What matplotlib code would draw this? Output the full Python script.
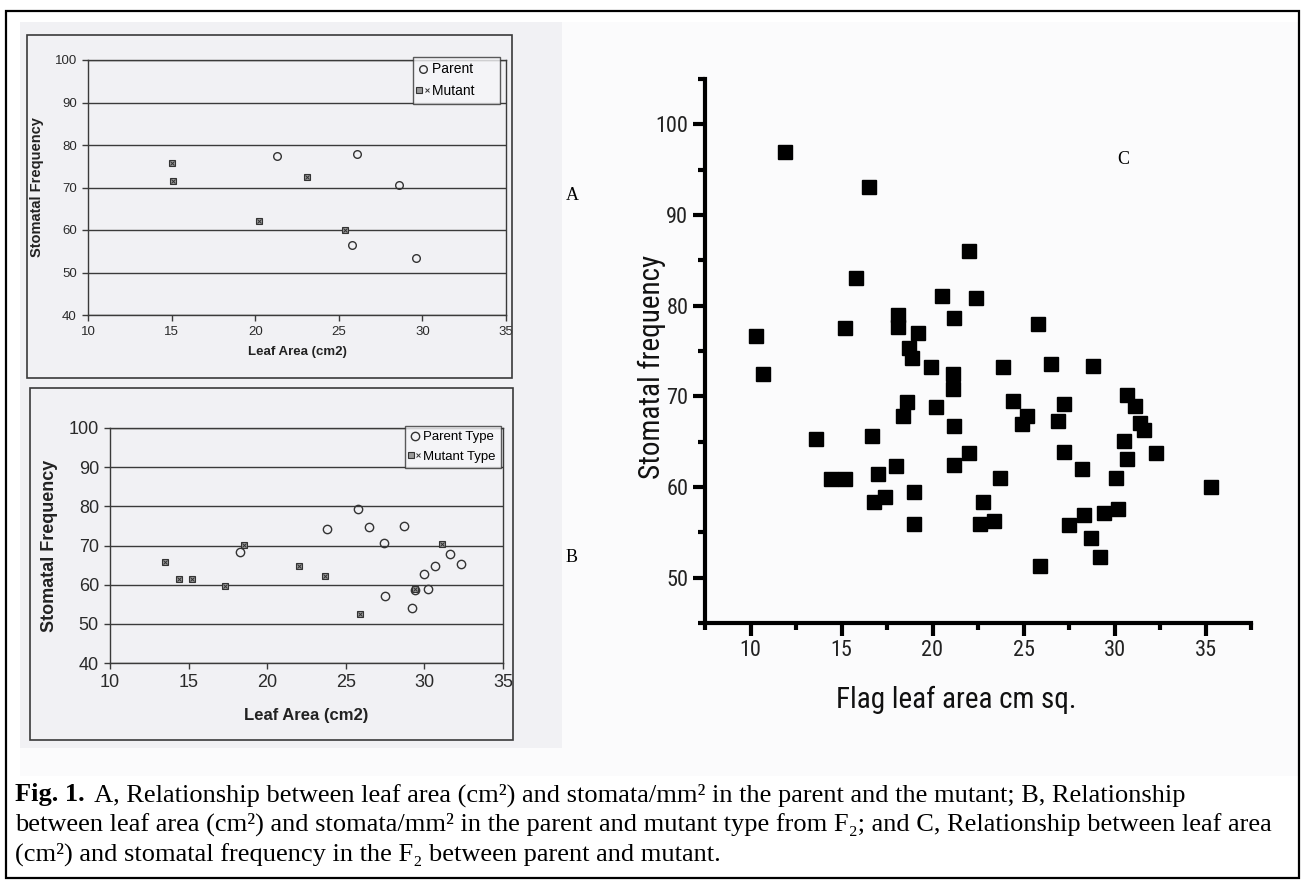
"""
Fig. 1 - leaf area vs stomatal frequency (A, B scanned panels, C F2 scatter)
"""
import matplotlib
matplotlib.use('Agg')
import matplotlib.pyplot as plt
from matplotlib.patches import Rectangle
from matplotlib.legend_handler import HandlerTuple

# A: parent / mutant
a_parent_x = [21.3, 26.1, 28.6, 25.8, 29.6]
a_parent_y = [77.4, 77.9, 70.6, 56.5, 53.3]
a_mutant_x = [15.0, 15.1, 20.2, 23.1, 25.4]
a_mutant_y = [75.8, 71.6, 62.2, 72.4, 60.1]

# B: parent type / mutant type from F2
b_parent_x = [25.8, 26.5, 23.8, 28.7, 27.4, 18.3, 31.6, 32.3, 30.7, 30.0, 30.2, 29.4, 27.5, 29.2]
b_parent_y = [79.3, 74.8, 74.2, 74.9, 70.6, 68.4, 67.8, 65.3, 64.7, 62.7, 58.9, 58.7, 57.1, 54.0]
b_mutant_x = [13.5, 14.4, 15.2, 17.3, 18.5, 22.0, 23.7, 25.9, 31.1, 29.4]
b_mutant_y = [65.7, 61.5, 61.5, 59.7, 70.1, 64.7, 62.3, 52.6, 70.4, 58.9]

# C: flag leaf area vs stomatal frequency in F2
c_x = [11.9, 16.5, 15.8, 22.0, 20.5, 22.4, 10.3, 10.7, 15.2, 18.1,
       18.1, 21.2, 19.2, 25.8, 18.7, 18.9, 19.9, 21.1, 21.1, 23.9,
       26.5, 28.8, 18.6, 18.4, 20.2, 24.4, 25.2, 24.9, 27.2, 26.9,
       21.2, 30.7, 31.1, 31.4, 31.6, 30.5, 30.7, 30.1, 32.3, 22.0,
       21.2, 27.2, 28.2, 18.0, 23.7, 17.0, 17.4, 16.8, 19.0, 19.0,
       22.8, 22.6, 23.4, 28.3, 29.4, 30.2, 27.5, 28.7, 29.2, 25.9,
       35.3, 13.6, 14.4, 15.2, 16.7]
c_y = [97.0, 93.1, 83.0, 86.0, 81.1, 80.9, 76.7, 72.5, 77.5, 79.0,
       77.6, 78.6, 77.0, 78.0, 75.3, 74.2, 73.2, 72.5, 70.8, 73.2,
       73.6, 73.3, 69.4, 67.8, 68.8, 69.5, 67.8, 66.9, 69.1, 67.3,
       66.7, 70.1, 68.9, 67.1, 66.3, 65.1, 63.1, 61.0, 63.8, 63.8,
       62.4, 63.9, 62.0, 62.3, 61.0, 61.4, 58.9, 58.4, 59.5, 55.9,
       58.3, 55.9, 56.2, 56.9, 57.1, 57.6, 55.8, 54.4, 52.3, 51.3,
       60.0, 65.3, 60.9, 60.9, 65.6]

W, H = 1304, 882
NARROW = ['Roboto Condensed', 'Liberation Sans Narrow', 'DejaVu Sans']
SERIF = ['Liberation Serif', 'DejaVu Serif']


def box(l, t, r, b):
    # pixel box (top-left origin) -> figure fraction
    return [l / W, 1 - b / H, (r - l) / W, (b - t) / H]


def rect(l, t, r, b, **kw):
    x, y, w, h = box(l, t, r, b)
    fig.add_artist(Rectangle((x, y), w, h, transform=fig.transFigure, **kw))


fig = plt.figure(figsize=(W / 100, H / 100), dpi=100)
fig.patch.set_facecolor('white')

# backgrounds and frames
rect(20, 22, 1298, 776, facecolor='#fbfbfc', edgecolor='none', zorder=0)
rect(20, 22, 562, 748, facecolor='#f1f1f4', edgecolor='none', zorder=0)
rect(27, 35, 512, 378, facecolor='none', edgecolor='#3a3a3a', lw=1.2, zorder=1)
rect(30, 388, 513, 740, facecolor='none', edgecolor='#3a3a3a', lw=1.2, zorder=1)
rect(6, 11, 1299, 878, facecolor='none', edgecolor='black', lw=1.6, zorder=1)


def scan_panel(pos, px, py, mx, my, labels, tick_fs, lab_fs, leg_fs, leg_anchor, ms):
    ax = fig.add_axes(box(*pos))
    ax.set_facecolor('none')
    ax.set_xlim(10, 35)
    ax.set_ylim(40, 100)
    ax.set_xticks(range(10, 36, 5))
    ax.set_yticks(range(40, 101, 10))
    ax.yaxis.grid(True, color='#3a3a3a', lw=1.0)
    ax.set_axisbelow(True)
    for s in ax.spines.values():
        s.set_color('#3a3a3a')
        s.set_linewidth(1.0)
    ax.tick_params(direction='out', length=4, width=1, color='#3a3a3a',
                   labelsize=tick_fs, labelcolor='#2a2a2a', pad=4)
    for t in ax.get_xticklabels() + ax.get_yticklabels():
        t.set_family('Liberation Sans')
    h1, = ax.plot(px, py, 'o', mfc='none', mec='#333333', mew=1.0, ms=ms, ls='none')
    h2, = ax.plot(mx, my, 's', mfc='#9a9a9a', mec='#333333', mew=0.8, ms=ms * 0.72, ls='none')
    h3, = ax.plot(mx, my, 'x', color='#333333', mew=0.7, ms=ms * 0.6, ls='none')
    ax.set_xlabel('Leaf Area (cm2)', fontsize=lab_fs, fontweight='bold',
                  family='Liberation Sans', color='#222222', labelpad=6)
    ax.set_ylabel('Stomatal Frequency', fontsize=lab_fs + 1, fontweight='bold',
                  family='Liberation Sans', color='#222222', labelpad=8)
    leg = ax.legend([h1, (h2, h3)], labels, loc='upper right', bbox_to_anchor=leg_anchor,
                    handler_map={tuple: HandlerTuple(ndivide=None)},
                    prop={'family': 'Liberation Sans', 'size': leg_fs},
                    frameon=True, fancybox=False, edgecolor='#333333',
                    handlelength=0.7, handletextpad=0.3, borderpad=0.4,
                    labelspacing=0.55, borderaxespad=0)
    leg.get_frame().set_linewidth(1.0)
    leg.get_frame().set_facecolor('#f6f6f8')
    return ax


axA = scan_panel((88, 60, 506, 315), a_parent_x, a_parent_y, a_mutant_x, a_mutant_y,
                 ['Parent     ', 'Mutant     '], 9.5, 9.5, 10, (0.985, 1.012), 5.5)
axB = scan_panel((110, 428, 503, 663), b_parent_x, b_parent_y, b_mutant_x, b_mutant_y,
                 ['Parent Type', 'Mutant Type'], 13, 12, 9.5, (0.995, 1.01), 6)
axB.xaxis.labelpad = 12

# panel C
axC = fig.add_axes(box(705, 79, 1251, 623))
axC.set_facecolor('none')
axC.set_xlim(7.5, 37.5)
axC.set_ylim(45, 105)
axC.set_xticks(range(10, 36, 5))
axC.set_xticks([7.5 + 5 * i for i in range(7)], minor=True)
axC.set_yticks(range(50, 101, 10))
axC.set_yticks(range(45, 106, 10), minor=True)
for s in ['top', 'right']:
    axC.spines[s].set_visible(False)
for s in ['left', 'bottom']:
    axC.spines[s].set_linewidth(3.0)
    axC.spines[s].set_capstyle('projecting')
axC.tick_params(which='major', direction='out', length=9, width=3.0, pad=3, labelsize=16)
axC.tick_params(which='minor', direction='out', length=5, width=3.0)
for t in axC.get_xticklabels() + axC.get_yticklabels():
    t.set_family(NARROW)
    t.set_color('#222222')
axC.plot(c_x, c_y, 's', color='black', ms=9.5, ls='none', clip_on=False)
axC.set_xlabel('Flag leaf area cm sq.', fontsize=21, family=NARROW, color='#111111')
axC.xaxis.set_label_coords(0.46, -0.115)
axC.set_ylabel('Stomatal frequency', fontsize=21, family=NARROW, color='#111111')
axC.yaxis.set_label_coords(-0.072, 0.47)

# panel letters
for lab, x, y in [('A', 572, 196), ('B', 572, 558), ('C', 1123, 159)]:
    fig.text(x / W, 1 - y / H, lab, family=SERIF, fontsize=13,
             ha='center', va='center')

# caption
fig_lbl = fig.text(15 / W, 1 - 795 / H, 'Fig. 1.', family=SERIF, fontweight='bold',
                   fontsize=19, ha='left', va='center')
cap_rest = [
    ' A, Relationship between leaf area (cm²) and stomata/mm² in the parent and the mutant; B, Relationship',
    'between leaf area (cm²) and stomata/mm² in the parent and mutant type from F₂; and C, Relationship between leaf area',
    '(cm²) and stomatal frequency in the F₂ between parent and mutant.',
]
axC.annotate(cap_rest[0], xy=(1, 0.5), xycoords=fig_lbl, xytext=(3, 0),
             textcoords='offset points', family=SERIF, fontsize=19,
             ha='left', va='center', annotation_clip=False)
for i, line in enumerate(cap_rest[1:], start=1):
    fig.text(15 / W, 1 - (795 + 29.5 * i) / H, line, family=SERIF,
             fontsize=19, ha='left', va='center')

fig.savefig('out.png', dpi=100)
